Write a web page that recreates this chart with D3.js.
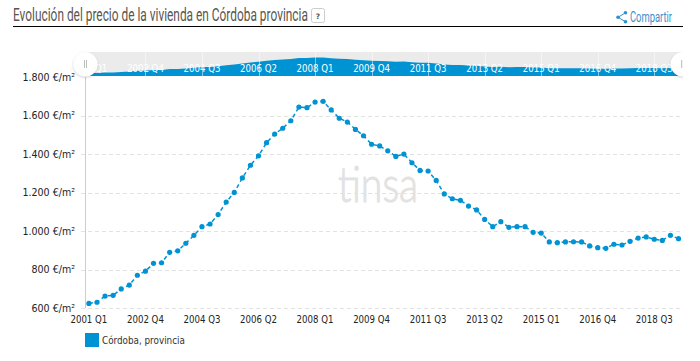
<!DOCTYPE html>
<html><head><meta charset="utf-8">
<script src="https://cdn.jsdelivr.net/npm/d3@7"></script>
<style>
html,body{margin:0;padding:0;background:#fff;}
svg{display:block;}
</style></head><body>
<svg id="c" width="700" height="361"></svg>
<script>
const startYear = 2001;
const quarterLabels = ["Q1","Q2","Q3","Q4"];
const tickLabels = ["2001 Q1","2002 Q4","2004 Q3","2006 Q2","2008 Q1","2009 Q4","2011 Q3","2013 Q2","2015 Q1","2016 Q4","2018 Q3"];
const yTicks = [600,800,1000,1200,1400,1600,1800];
const seriesName = "Córdoba, provincia";
const values = [625,631,663,667,700,720,771,792,833,836,890,898,937,978,1023,1037,1086,1151,1201,1276,1342,1391,1459,1504,1534,1573,1644,1641,1670,1674,1629,1586,1566,1528,1495,1451,1442,1417,1388,1400,1355,1315,1312,1263,1193,1168,1160,1130,1110,1061,1023,1049,1020,1023,1023,994,990,944,940,944,945,944,923,914,911,932,928,947,964,970,958,952,978,961];
const categories = values.map((_, i) => (startYear + Math.floor(i / 4)) + " " + quarterLabels[i % 4]);

const blue = "#0093d3";
const svg = d3.select("#c");
const x = d3.scalePoint().domain(categories).range([88.9, 678.5]);
const y = d3.scaleLinear().domain([600, 1800]).range([308.2, 77]);
const sans = "'DejaVu Sans', sans-serif";
const squeeze = (sel, k) => sel.each(function () {
  d3.select(this).attr("textLength", this.getComputedTextLength() * k).attr("lengthAdjust", "spacingAndGlyphs");
});

// title: condensed by a horizontal scale so its box ends before the help button
const title = svg.append("text").attr("font-family", "Roboto, sans-serif")
  .attr("font-size", 18.5).attr("fill", "#5a5550")
  .text("Evolución del precio de la vivienda en Córdoba provincia");
title.attr("transform", `translate(13,21) scale(${295 / title.node().getComputedTextLength()},1)`);
svg.append("rect").attr("x", 311.5).attr("y", 8.5).attr("width", 13).attr("height", 14).attr("rx", 2)
  .attr("fill", "#fff").attr("stroke", "#ccc");
svg.append("text").attr("x", 318).attr("y", 18.5).attr("text-anchor", "middle").attr("font-family", sans)
  .attr("font-size", 7.5).attr("font-weight", "bold").attr("fill", "#555").text("?");
svg.append("line").attr("x1", 13).attr("x2", 683).attr("y1", 26.5).attr("y2", 26.5).attr("stroke", "#000").attr("stroke-width", 1);

// share
const sh = svg.append("g").attr("fill", "#2f8fd0").attr("stroke", "none");
svg.append("path").attr("d", "M625.5 12.8 L618 17.3 L625.5 21.7").attr("fill", "none").attr("stroke", "#2f8fd0").attr("stroke-width", 1);
[[625.5,12.8],[618,17.3],[625.5,21.7]].forEach(p => sh.append("circle").attr("cx", p[0]).attr("cy", p[1]).attr("r", 1.8));
svg.append("text").attr("x", 630).attr("y", 22).attr("font-family", "Roboto, sans-serif").attr("font-size", 14)
  .attr("fill", "#3d8ec9").attr("textLength", 42).attr("lengthAdjust", "spacingAndGlyphs").text("Compartir");

// watermark
svg.append("text").attr("x", 338).attr("y", 202).attr("font-family", "Lato, sans-serif").attr("font-size", 50)
  .attr("font-weight", 300).attr("fill", "#e2e2e2").attr("stroke", "#e2e2e2").attr("stroke-width", 1)
  .attr("textLength", 80).attr("lengthAdjust", "spacingAndGlyphs").text("tinsa");

// grid and y labels
const left = 85, right = 683;
yTicks.forEach(v => {
  if (v < 1800) svg.append("line").attr("x1", 81).attr("x2", right).attr("y1", Math.round(y(v)) + .5).attr("y2", Math.round(y(v)) + .5)
    .attr("stroke", "#e2e2e2").attr("stroke-dasharray", "4,3");
  svg.append("text").attr("x", 75).attr("y", y(v) + 3.7).attr("text-anchor", "end").attr("font-family", sans)
    .attr("font-size", 10).attr("fill", "#222").text(d3.format(",")(v).replace(",", ".") + " €/m²").call(squeeze, 0.95);
});
svg.append("line").attr("x1", left + .5).attr("x2", left + .5).attr("y1", 77).attr("y2", 308).attr("stroke", "#ccc");

// x labels
tickLabels.forEach(t => {
  svg.append("text").attr("x", x(t)).attr("y", 323.3).attr("text-anchor", "middle").attr("font-family", sans)
    .attr("font-size", 10).attr("fill", "#222").text(t).call(squeeze, 0.86);
});

// line + points
const line = d3.line().x((d, i) => x(categories[i])).y(d => y(d));
svg.append("path").attr("d", line(values)).attr("fill", "none").attr("stroke", blue).attr("stroke-width", 1.5).attr("stroke-dasharray", "4,3");
svg.selectAll("circle.pt").data(values).join("circle").attr("class", "pt")
  .attr("cx", (d, i) => x(categories[i])).attr("cy", d => y(d)).attr("r", 2.6).attr("fill", blue);

// navigator
const navTop = 52, navBottom = 76;
svg.append("rect").attr("x", left).attr("y", navTop).attr("width", right - left).attr("height", navBottom - navTop).attr("fill", "#ebebeb");
const ny = d3.scaleLinear().domain([625, 1674]).range([73, 57.5]);
const navArea = d3.area().x((d, i) => i === 0 ? left : (i === values.length - 1 ? right : x(categories[i]))).y0(navBottom).y1(d => ny(d));
svg.append("path").attr("d", navArea(values)).attr("fill", blue);
tickLabels.forEach(t => {
  svg.append("line").attr("x1", Math.round(x(t)) + .5).attr("x2", Math.round(x(t)) + .5).attr("y1", navTop).attr("y2", navBottom).attr("stroke", "#fff").attr("stroke-opacity", .5);
  svg.append("text").attr("x", x(t)).attr("y", 72).attr("text-anchor", "middle").attr("font-family", sans)
    .attr("font-size", 10).attr("fill", "#fff").text(t).call(squeeze, 0.86);
});
[85.5, 682.7].forEach(p => {
  svg.append("circle").attr("cx", p).attr("cy", 64.3).attr("r", 12.2).attr("fill", "#fff")
    .style("filter", "drop-shadow(0 1px 1px rgba(0,0,0,.18))");
  svg.append("rect").attr("x", p - 1.5).attr("y", 60).attr("width", 1).attr("height", 8).attr("fill", "#bbb");
  svg.append("rect").attr("x", p + .5).attr("y", 60).attr("width", 1).attr("height", 8).attr("fill", "#bbb");
});
svg.append("rect").attr("x", 683).attr("y", 48).attr("width", 17).attr("height", 35).attr("fill", "#fff");

// legend
svg.append("rect").attr("x", 85).attr("y", 333).attr("width", 14).attr("height", 14).attr("fill", blue);
svg.append("text").attr("x", 102).attr("y", 344).attr("font-family", sans).attr("font-size", 10).attr("fill", "#333").text(seriesName).call(squeeze, 0.88);
</script>
</body></html>
